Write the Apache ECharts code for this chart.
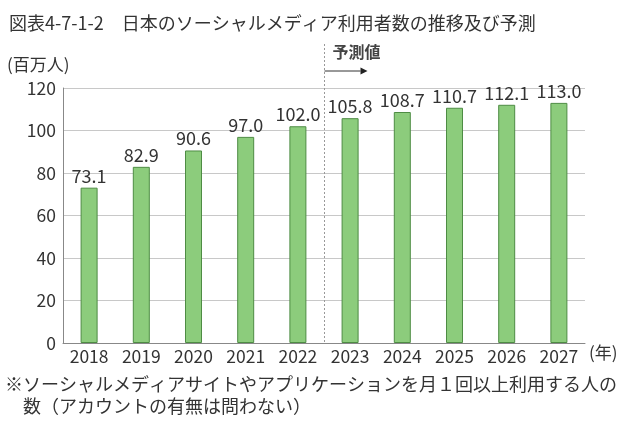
<!DOCTYPE html>
<html>
  <head>
    <meta charset="utf-8" />
    <title>日本のソーシャルメディア利用者数</title>
    <style>
      html,
      body {
        margin: 0;
        padding: 0;
        background: #fff;
      }
      #chart-container {
        width: 633px;
        height: 428px;
      }
    </style>
    <script src="https://cdn.jsdelivr.net/npm/echarts@6/dist/echarts.min.js"></script>
  </head>
  <body>
    <div id="chart-container"></div>

    <script>
      // 年次と利用者数（百万人）
      var years = ["2018", "2019", "2020", "2021", "2022", "2023", "2024", "2025", "2026", "2027"];
      var users = [73.1, 82.9, 90.6, 97.0, 102.0, 105.8, 108.7, 110.7, 112.1, 113.0];
      var yTicks = [0, 20, 40, 60, 80, 100, 120];

      var font = '"Noto Sans CJK JP", "Noto Sans", sans-serif';

      var myChart = echarts.init(document.getElementById("chart-container"), null, {
        renderer: "canvas",
      });

      var option = {
        animation: false,
        textStyle: { fontFamily: font },
        title: {
          text: "図表4-7-1-2　日本のソーシャルメディア利用者数の推移及び予測",
          left: 4,
          top: 9,
          textStyle: { fontSize: 18, fontWeight: "normal", color: "#333", fontFamily: font },
        },
        grid: { left: 63, right: 48, top: 88, bottom: 85 },
        xAxis: {
          type: "category",
          data: years,
          axisLine: { lineStyle: { color: "#888", width: 1 } },
          axisTick: { inside: true, length: 5, lineStyle: { color: "#888" } },
          axisLabel: { fontSize: 17.5, color: "#333", margin: 5, fontFamily: font },
        },
        yAxis: {
          type: "value",
          min: yTicks[0],
          max: yTicks[yTicks.length - 1],
          interval: 20,
          axisLine: { show: true, lineStyle: { color: "#888" } },
          axisTick: { show: false },
          splitLine: { lineStyle: { color: "#c8c8c8" } },
          axisLabel: { fontSize: 17.5, color: "#333", margin: 7, fontFamily: font },
        },
        series: [
          {
            type: "bar",
            data: users,
            barWidth: 17,
            itemStyle: { color: "#8ccc7c", borderColor: "#4e8c44", borderWidth: 1 },
            label: {
              show: true,
              position: "top",
              distance: 3,
              fontSize: 18,
              color: "#333",
              fontFamily: font,
              formatter: function (p) {
                return p.value.toFixed(1);
              },
            },
          },
        ],
      };
      myChart.setOption(option);

      // 実績と予測値の境界（2022と2023の間）
      var x1 = myChart.convertToPixel({ xAxisIndex: 0 }, "2022");
      var x2 = myChart.convertToPixel({ xAxisIndex: 0 }, "2023");
      var mid = Math.round((x1 + x2) / 2) + 0.5;
      var yBase = myChart.convertToPixel({ yAxisIndex: 0 }, 0);

      myChart.setOption({
        graphic: [
          {
            type: "line",
            shape: { x1: mid, y1: 44, x2: mid, y2: yBase },
            style: { stroke: "#999", lineWidth: 1, lineDash: [2, 2] },
          },
          {
            type: "text",
            left: mid + 8,
            top: 44,
            style: { text: "予測値", fontSize: 16, fontWeight: "bold", fill: "#444", fontFamily: font },
          },
          {
            type: "line",
            shape: { x1: mid, y1: 71, x2: mid + 36, y2: 71 },
            style: { stroke: "#333", lineWidth: 1 },
          },
          {
            type: "polygon",
            shape: { points: [[mid + 36, 67.5], [mid + 43, 71], [mid + 36, 74.5]] },
            style: { fill: "#222" },
          },
          {
            type: "text",
            left: 589,
            top: 344,
            style: { text: "(年)", fontSize: 17, fill: "#333", fontFamily: font },
          },
          {
            type: "text",
            left: 7,
            top: 56,
            style: { text: "(百万人)", fontSize: 17, fill: "#333", fontFamily: font },
          },
          {
            type: "text",
            left: 5,
            top: 373,
            style: {
              text: "※ソーシャルメディアサイトやアプリケーションを月１回以上利用する人の\n　数（アカウントの有無は問わない）",
              fontSize: 18,
              lineHeight: 22,
              fill: "#333",
              fontFamily: font,
            },
          },
        ],
      });
    </script>
  </body>
</html>
